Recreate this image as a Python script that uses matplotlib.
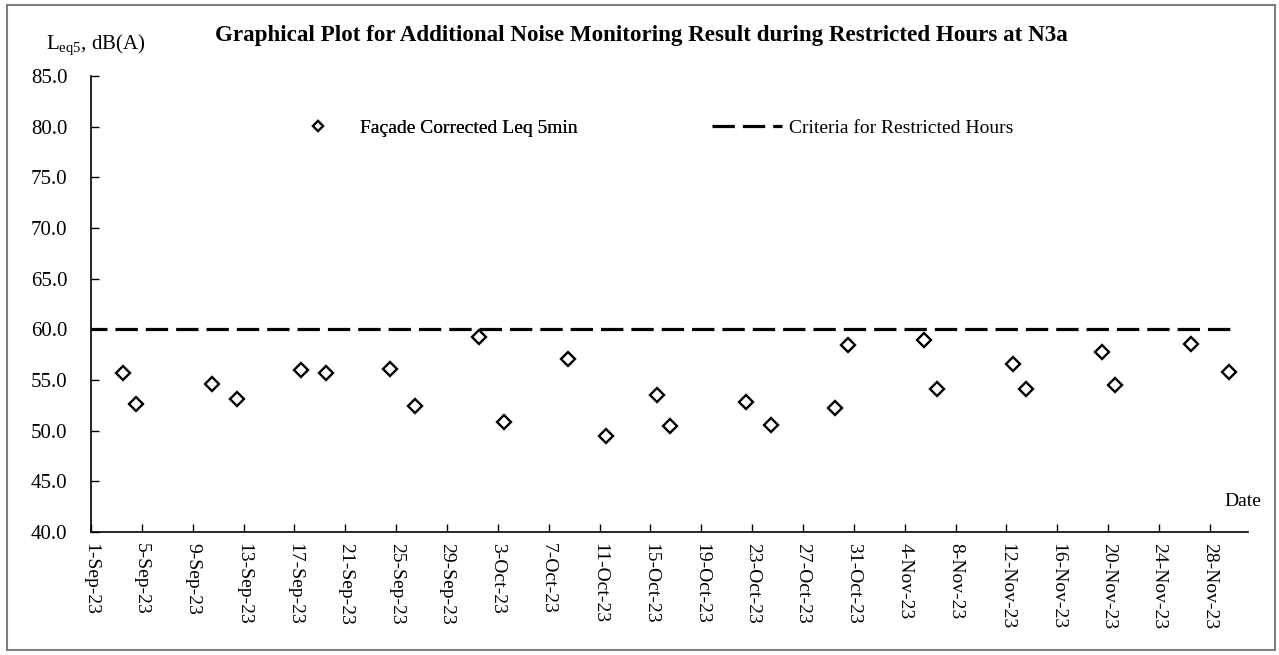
import numpy as np
import pandas as pd
import matplotlib
matplotlib.use('Agg')
import matplotlib.pyplot as plt
from matplotlib.lines import Line2D
from matplotlib.patches import Rectangle

plt.rcParams['font.family'] = ['Liberation Serif', 'DejaVu Serif']
plt.rcParams['mathtext.fontset'] = 'custom'
plt.rcParams['mathtext.rm'] = 'Liberation Serif'

# --- data ---
dates = ['2023-09-03', '2023-09-04', '2023-09-10', '2023-09-12', '2023-09-17',
         '2023-09-19', '2023-09-24', '2023-09-26', '2023-10-01', '2023-10-03',
         '2023-10-08', '2023-10-11', '2023-10-15', '2023-10-16', '2023-10-22',
         '2023-10-24', '2023-10-29', '2023-10-30', '2023-11-05', '2023-11-06',
         '2023-11-12', '2023-11-13', '2023-11-19', '2023-11-20', '2023-11-26',
         '2023-11-29']
leq = [55.7, 52.6, 54.6, 53.1, 56.0, 55.7, 56.1, 52.4, 59.2, 50.9,
       57.1, 49.5, 53.5, 50.5, 52.8, 50.6, 52.2, 58.5, 58.9, 54.1,
       56.6, 54.1, 57.8, 54.5, 58.6, 55.8]

criteria = 60.0
criteria_span = ['2023-09-01 00:00', '2023-11-29 21:00']
tick_dates = pd.date_range('2023-09-01', '2023-11-28', freq='4D')
x_range = ['2023-09-01', '2023-12-01']
y_ticks = [40, 45, 50, 55, 60, 65, 70, 75, 80, 85]

W, H = 1279, 655
fig = plt.figure(figsize=(W / 100, H / 100), dpi=100)
ax = fig.add_axes([91 / W, 1 - 532 / H, (1248 - 91) / W, (532 - 76) / H])

# points sit in the middle of each day slot (Excel date axis)
x_pts = pd.to_datetime(dates) + pd.Timedelta(hours=12)
ax.plot(x_pts, leq, linestyle='none', marker='D', ms=7.0, mfc='white',
        mec='black', mew=1.7, zorder=3)

ax.plot(pd.to_datetime(criteria_span), [criteria, criteria], color='black',
        lw=2.3, linestyle=(2.0, (7.0, 2.5)), solid_capstyle='butt',
        dash_capstyle='butt', zorder=2)

ax.set_xlim(pd.to_datetime(x_range))
ax.set_ylim(40, 85)
ax.set_xticks(tick_dates)
ax.set_xticklabels([f"{d.day}-{d.strftime('%b-%y')}" for d in tick_dates],
                   rotation=270, ha='center', va='top', fontsize=14)
ax.set_yticks(y_ticks)
ax.set_yticklabels([f"{v:.1f}" for v in y_ticks], fontsize=15)
ax.tick_params(axis='both', direction='in', length=6, width=1, color='black')
ax.tick_params(axis='x', pad=8)
ax.tick_params(axis='y', pad=17)

for side in ['top', 'right']:
    ax.spines[side].set_visible(False)
for side in ['left', 'bottom']:
    ax.spines[side].set_linewidth(1.2)

# legends placed like the Excel chart
h1 = Line2D([], [], linestyle='none', marker='D', ms=5.6, mfc='white',
            mec='black', mew=1.6)
h2 = Line2D([], [], color='black', lw=2.3, linestyle=(0, (7.0, 2.5)),
            dash_capstyle='butt')
leg1 = fig.legend([h1], ['Façade Corrected Leq 5min'], loc='center left',
                  bbox_to_anchor=(283 / W, 1 - 128 / H), frameon=False,
                  fontsize=14, handlelength=3.6, handletextpad=0.35,
                  borderpad=0, borderaxespad=0)
fig.legend([h2], ['Criteria for Restricted Hours'], loc='center left',
           bbox_to_anchor=(712 / W, 1 - 128 / H), frameon=False,
           fontsize=14, handlelength=3.6, handletextpad=0.35,
           borderpad=0, borderaxespad=0)
fig.add_artist(leg1)

fig.text(641 / W, 1 - 35 / H,
         'Graphical Plot for Additional Noise Monitoring Result during Restricted Hours at N3a',
         ha='center', va='center', fontsize=16.6, fontweight='bold')
fig.text(46 / W, 1 - 45 / H, r'L$_{\mathrm{eq5}}$, dB(A)', ha='left',
         va='center', fontsize=15)
fig.text(1224 / W, 1 - 502 / H, 'Date', ha='left', va='center', fontsize=14)

# outer chart border
fig.patches.append(Rectangle((7 / W, 5 / H), (1275 - 7) / W, (650 - 5) / H,
                             transform=fig.transFigure, fill=False,
                             edgecolor='#7f7f7f', lw=1.5))

fig.savefig('out.png', dpi=100)
